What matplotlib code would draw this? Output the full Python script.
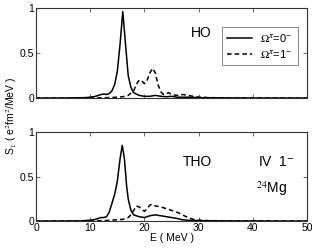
import matplotlib
matplotlib.use("Agg")
import matplotlib.pyplot as plt

plt.rcParams['font.family'] = ['Liberation Sans', 'DejaVu Sans']
plt.rcParams['mathtext.fontset'] = 'stix'

# HO panel
ho_e0 = [0, 5, 9, 10, 11, 12, 12.5, 13, 13.5, 14, 14.5, 15, 15.5, 16, 16.5, 17, 17.5, 18, 19, 20, 21, 22, 23, 24, 25, 26, 28, 30, 35, 40, 50]
ho_s0 = [0, 0.001, 0.005, 0.01, 0.02, 0.04, 0.045, 0.04, 0.05, 0.08, 0.15, 0.3, 0.6, 0.96, 0.6, 0.25, 0.12, 0.06, 0.03, 0.02, 0.02, 0.03, 0.02, 0.015, 0.02, 0.01, 0.01, 0.005, 0.002, 0.001, 0]
ho_e1 = [0, 10, 13, 15, 16, 17, 18, 18.5, 19, 19.5, 20, 20.5, 21, 21.5, 22, 22.5, 23, 23.5, 24, 24.5, 25, 26, 27, 28, 29, 30, 32, 35, 50]
ho_s1 = [0, 0, 0.005, 0.01, 0.015, 0.03, 0.08, 0.15, 0.2, 0.19, 0.16, 0.2, 0.28, 0.33, 0.28, 0.15, 0.07, 0.04, 0.05, 0.06, 0.04, 0.03, 0.04, 0.03, 0.02, 0.01, 0.005, 0.002, 0]

# THO panel
tho_e0 = [0, 8, 10, 11, 11.5, 12, 12.5, 13, 13.5, 14, 14.5, 15, 15.5, 15.9, 16.3, 16.7, 17, 17.5, 18, 19, 20, 21, 22, 23, 24, 25, 26, 27, 28, 30, 35, 50]
tho_s0 = [0, 0.002, 0.01, 0.02, 0.03, 0.04, 0.04, 0.05, 0.1, 0.2, 0.3, 0.45, 0.7, 0.85, 0.7, 0.4, 0.25, 0.12, 0.07, 0.05, 0.04, 0.06, 0.07, 0.06, 0.05, 0.04, 0.03, 0.015, 0.01, 0.005, 0.002, 0]
tho_e1 = [0, 10, 12, 14, 16, 17, 17.5, 18, 18.5, 19, 19.5, 20, 20.5, 21, 21.5, 22, 23, 24, 25, 26, 27, 28, 29, 30, 32, 40, 50]
tho_s1 = [0, 0, 0.005, 0.01, 0.02, 0.04, 0.07, 0.12, 0.17, 0.16, 0.13, 0.11, 0.14, 0.18, 0.19, 0.17, 0.16, 0.14, 0.12, 0.1, 0.07, 0.04, 0.02, 0.01, 0.005, 0.002, 0]

xticks = [0, 10, 20, 30, 40, 50]
yticks = [0, 0.5, 1]
ytick_labels = ['0', '0.5', '1']

fig = plt.figure(figsize=(3.16, 2.49), dpi=100)
ax1 = fig.add_axes([0.114, 0.606, 0.858, 0.362])
ax2 = fig.add_axes([0.114, 0.112, 0.858, 0.358])

for ax in (ax1, ax2):
    ax.set_xlim(0, 50)
    ax.set_ylim(0, 1)
    ax.set_xticks(xticks)
    ax.set_yticks(yticks)
    ax.set_yticklabels(ytick_labels)
    ax.tick_params(direction='in', top=True, right=True, length=3, width=0.6,
                   labelsize=7.5, pad=1.5, color='#555555')
    for s in ax.spines.values():
        s.set_linewidth(0.8)
        s.set_color('#333333')

ax1.set_xticklabels([])
l0, = ax1.plot(ho_e0, ho_s0, color='black', lw=1.1, label=r'$\Omega^{\pi}$=0$^{-}$')
l1, = ax1.plot(ho_e1, ho_s1, color='black', lw=1.1, ls=(0, (3, 2)), label=r'$\Omega^{\pi}$=1$^{-}$')
ax1.text(0.57, 0.72, 'HO', transform=ax1.transAxes, fontsize=10, ha='left', va='center')
leg = ax1.legend(handles=[l0, l1], loc='upper right', bbox_to_anchor=(0.965, 0.79),
                 fontsize=8, frameon=True, fancybox=False, handlelength=2.3,
                 borderpad=0.45, labelspacing=0.35, handletextpad=0.7, borderaxespad=0)
leg.get_frame().set_edgecolor('#555555')
leg.get_frame().set_linewidth(0.6)

ax2.set_xticklabels([str(v) for v in xticks])
ax2.plot(tho_e0, tho_s0, color='black', lw=1.1)
ax2.plot(tho_e1, tho_s1, color='black', lw=1.1, ls=(0, (3, 2)))
ax2.text(0.54, 0.66, 'THO', transform=ax2.transAxes, fontsize=10, ha='left', va='center')
ax2.text(0.82, 0.66, r'IV  1$^{-}$', transform=ax2.transAxes, fontsize=10, ha='left', va='center')
ax2.text(0.81, 0.36, r'$^{24}$Mg', transform=ax2.transAxes, fontsize=10, ha='left', va='center')
ax2.set_xlabel('E ( MeV )', fontsize=7.5, labelpad=0)

fig.text(0.035, 0.535, r'S$_1$ ( e$^2$fm$^2$/MeV )', rotation=90, fontsize=7.5,
         ha='center', va='center')

fig.savefig('out.png', dpi=100)
